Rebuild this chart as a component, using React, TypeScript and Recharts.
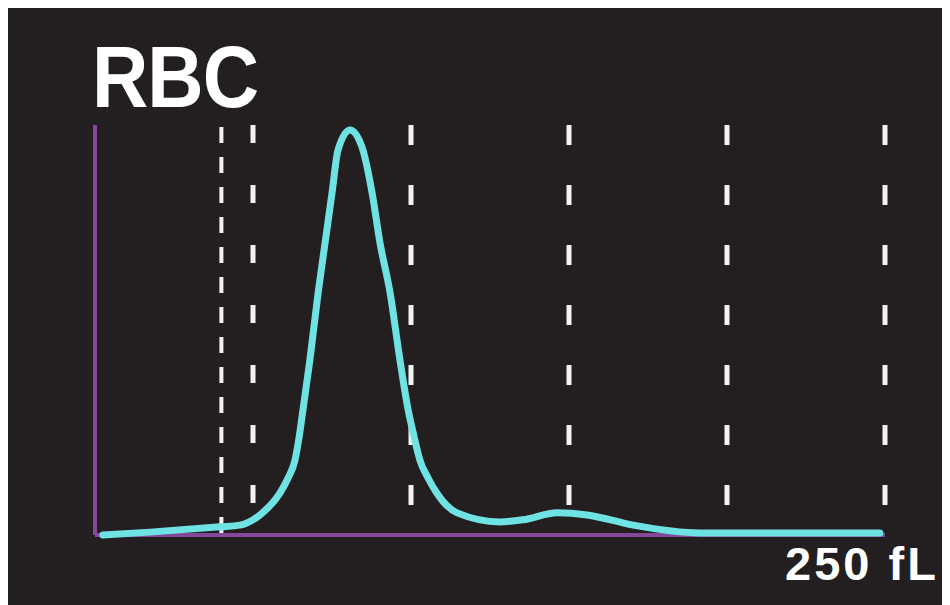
import { LineChart, Line, XAxis, YAxis, ReferenceLine } from 'recharts'

// cell volume (fL) and relative count
const volumes = [2.5, 17.4, 39.6, 45.9, 52.2, 58.5, 61.1, 63.3, 64.6, 65.8, 68, 70.6, 72.8, 75, 76.9, 80.7, 84.5, 87.7, 90.2, 93.4, 96.5, 99.1, 101, 102.8, 105.4, 108.2, 114.6, 128.2, 135.4, 146.2, 155.7, 170.3, 191.5, 248.4]
const counts = [0, 0.7, 2, 2.4, 4.9, 10.2, 13.9, 18.3, 23.9, 30.5, 42.7, 59, 71.2, 83.4, 93.9, 98.8, 94.6, 83.4, 71.2, 59, 42.7, 30.5, 23.9, 18.3, 13.9, 10.2, 5.4, 3.2, 3.7, 5.4, 4.9, 2.4, 0.5, 0.5]

const gateLines = [100, 150, 200, 250]
const lowGate = 40
const midGate = 50

const data = volumes.map((v, i) => ({ fl: v, count: counts[i] }))

const BG = '#231f20'
const CYAN = '#6fe2e4'
const PURPLE = '#84479a'
const DASH = '#f2f2f2'

export default function App() {
  return (
    <div style={{ position: 'relative', width: 942, height: 600, marginTop: -3, background: BG, fontFamily: '"Liberation Sans", Arial, sans-serif' }}>
      <LineChart width={942} height={600} data={data}
        margin={{ top: 120, right: 65, left: 87, bottom: 70 }}>
        <XAxis type="number" dataKey="fl" domain={[0, 250]} hide />
        <YAxis type="number" domain={[0, 100]} hide />
        {/* axes */}
        <ReferenceLine x={0} stroke={PURPLE} strokeWidth={4} />
        <ReferenceLine y={0} stroke={PURPLE} strokeWidth={4} />
        <ReferenceLine x={lowGate} stroke={DASH} strokeWidth={4} strokeDasharray="16 14" strokeDashoffset={28} />
        <ReferenceLine x={midGate} stroke={DASH} strokeWidth={5} strokeDasharray="18 42" strokeDashoffset={28} />
        {gateLines.map(g => (
          <ReferenceLine key={g} x={g} stroke={DASH} strokeWidth={5} strokeDasharray="20 40" strokeDashoffset={30} />
        ))}
        <Line type="monotone" dataKey="count" stroke={CYAN} strokeWidth={7} dot={false}
          strokeLinecap="round" isAnimationActive={false} />
      </LineChart>
      <div style={{ position: 'absolute', left: 84, top: 28, color: '#fff', fontWeight: 700, fontSize: 78, letterSpacing: -1, lineHeight: 1, transform: 'scaleY(1.12)', transformOrigin: 'top left' }}>
        RBC
      </div>
      <div style={{ position: 'absolute', left: 777, top: 535, color: '#fff', fontWeight: 700, fontSize: 47, letterSpacing: 3, lineHeight: 1 }}>
        250 fL
      </div>
    </div>
  )
}
